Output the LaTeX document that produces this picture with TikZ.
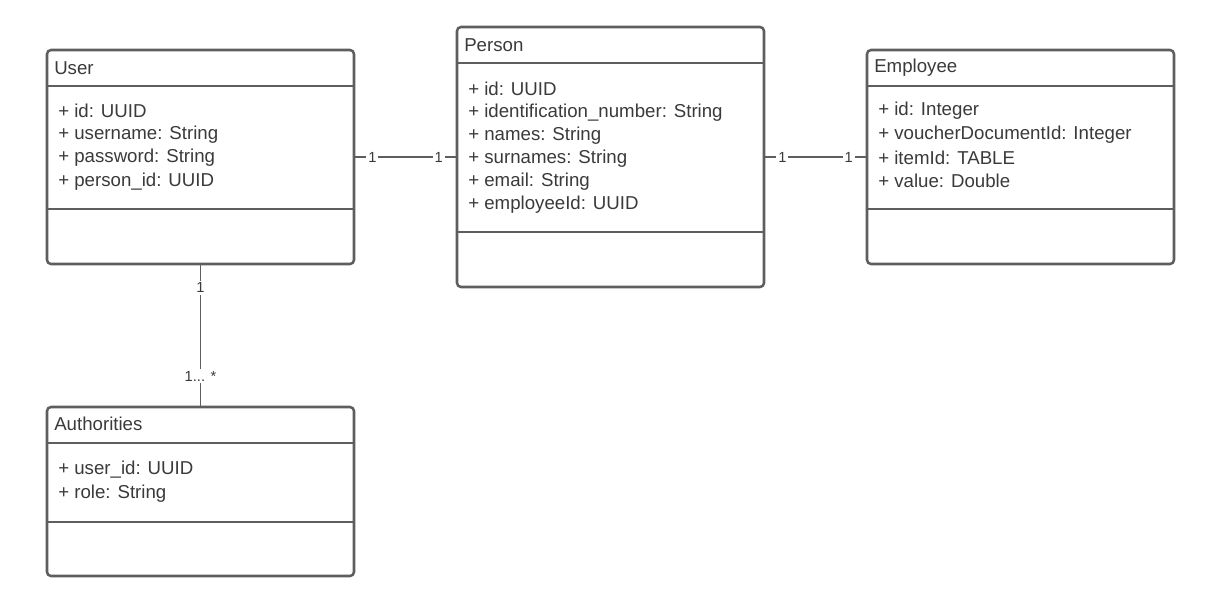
\documentclass[tikz,border=0pt]{standalone}
\usepackage{fontspec}
\setmainfont{Liberation Sans}
\usetikzlibrary{fit}
\definecolor{umlline}{HTML}{5E5E5E}
\definecolor{umltext}{HTML}{3A3A3A}
\begin{document}
\begin{tikzpicture}[x=0.75pt,y=-0.75pt,line join=round,line cap=round,font=\fontsize{14}{16}\selectfont,
		classbox/.style={draw=umlline,line width=1.9pt,rounded corners=3pt,inner sep=0pt},
		sep/.style={draw=umlline,line width=1.9pt,line cap=butt},
		title/.style={anchor=west,text=umltext,inner sep=0pt},
		attr/.style={anchor=west,text=umltext,inner sep=0pt},
		conn/.style={draw=umlline,line width=1.2pt},
		mult/.style={fill=white,text=umltext,inner sep=1.5pt,font=\fontsize{11}{12}\selectfont}]
	\useasboundingbox (0,0) rectangle (1210,614);
	\node[classbox,fit={(47,50)(354,264)}] (user) {};
	\draw[sep] (47,86)--(354,86) (47,209)--(354,209);
	\node[title] (usertitle) at (54,68) {User};
	\foreach \t [count=\i] in {+ id: UUID,+ username: String,+ password: String,+ person\_id: UUID}{
		\node[attr] (user-\i) at (58,{111+23.4*(\i-1)}) {\t};
	}
	\node[classbox,fit={(457,27)(764,287)}] (person) {};
	\draw[sep] (457,63)--(764,63) (457,232)--(764,232);
	\node[title] (persontitle) at (464,45) {Person};
	\foreach \t [count=\i] in {+ id: UUID,+ identification\_number: String,+ names: String,+ surnames: String,+ email: String,+ employeeId: UUID}{
		\node[attr] (person-\i) at (468,{89+23.2*(\i-1)}) {\t};
	}
	\node[classbox,fit={(867,50)(1174,264)}] (employee) {};
	\draw[sep] (867,86)--(1174,86) (867,209)--(1174,209);
	\node[title] (employeetitle) at (874,68) {Employee};
	\foreach \t [count=\i] in {+ id: Integer,+ voucherDocumentId: Integer,+ itemId: TABLE,+ value: Double}{
		\node[attr] (employee-\i) at (878,{111+23.4*(\i-1)}) {\t};
	}
	\node[classbox,fit={(47,407)(354,576)}] (authorities) {};
	\draw[sep] (47,443)--(354,443) (47,522)--(354,522);
	\node[title] (authoritiestitle) at (54,424) {Authorities};
	\foreach \t [count=\i] in {+ user\_id: UUID,+ role: String}{
		\node[attr] (authorities-\i) at (58,{470+23.4*(\i-1)}) {\t};
	}
	\draw[conn] (user)--node[mult,pos=.17] (m1) {1} node[mult,pos=.83] (m2) {1} (person);
	\draw[conn] (person)--node[mult,pos=.17] (m3) {1} node[mult,pos=.83] (m4) {1} (employee);
	\draw[conn] (user)--node[mult,pos=.16] (m5) {1} node[mult,pos=.79] (m6) {1... *} (authorities);
\end{tikzpicture}
\end{document}
